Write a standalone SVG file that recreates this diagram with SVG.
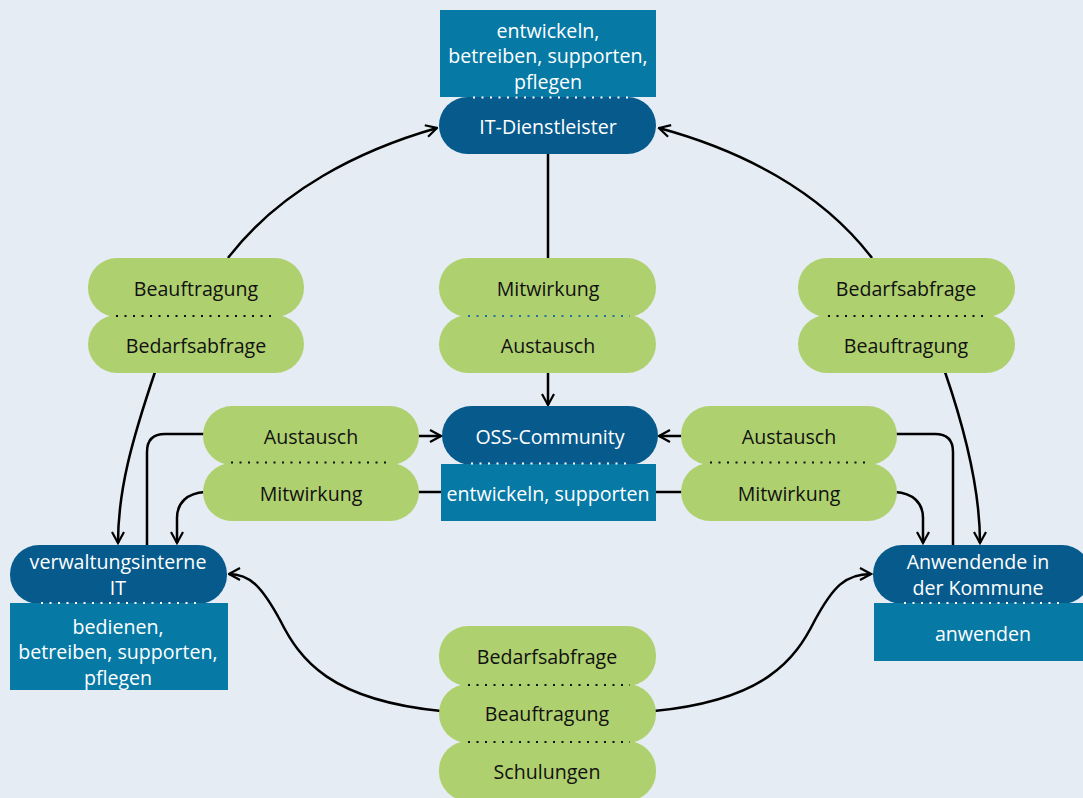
<svg xmlns="http://www.w3.org/2000/svg" width="1083" height="798" viewBox="0 0 1083 798">
<defs>
<marker id="arr" viewBox="0 0 14 14" refX="12.5" refY="7" markerWidth="14" markerHeight="14" markerUnits="userSpaceOnUse" orient="auto">
<path d="M1.5,1 L12.5,7 L1.5,13" fill="none" stroke="#000" stroke-width="2.2"/>
</marker>
<clipPath id="page"><rect x="0" y="0" width="1083" height="798"/></clipPath>
</defs>
<style>
.bg{fill:#e5ecf3}
.dark{fill:#075a8c}
.teal{fill:#0679a5}
.green{fill:#afd06f}
.wt{fill:#fff;font-family:"Open Sans","Noto Sans",sans-serif;font-size:19.6px;text-anchor:middle;dominant-baseline:central}
.bt{fill:#111;font-family:"Open Sans","Noto Sans",sans-serif;font-size:19.6px;text-anchor:middle;dominant-baseline:central}
.dotw{stroke:#fff;stroke-width:2.2;stroke-dasharray:2 6.5;fill:none}
.dotb{stroke:#111;stroke-width:2.2;stroke-dasharray:2 6.5;fill:none}
.dotbl{stroke:#2270a8;stroke-width:2.2;stroke-dasharray:2 6.5;fill:none}
.c{fill:none;stroke:#000;stroke-width:2.5}
.a{marker-end:url(#arr)}
</style>
<rect class="bg" x="0" y="0" width="1083" height="798"/>
<g id="connectors">
<path class="c a" d="M228,258 C280,190 360,150 437,128"/>
<path class="c a" d="M872,258 C820,190 740,150 659,128"/>
<path class="c" d="M548,154 L548,260"/>
<path class="c a" d="M548,372 L548,405"/>
<path class="c a" d="M155,372 C132,440 118,490 118,543"/>
<path class="c" d="M205,434 L165,434 Q147,434 147,452 L147,546"/>
<path class="c a" d="M205,492 C187,493 177,503 177,518 L177,543"/>
<path class="c" d="M417,492 L443,492"/>
<path class="c" d="M654,492 L683,492"/>
<path class="c a" d="M417,436 L441,436"/>
<path class="c a" d="M683,436 L659,436"/>
<path class="c" d="M895,434 L935,434 Q953,434 953,452 L953,546"/>
<path class="c a" d="M895,492 C913,493 923,503 923,518 L923,543"/>
<path class="c a" d="M945,372 C965,430 980,490 980,543"/>
<path class="c a" d="M441,711 C330,700 300,660 280,620 C262,587 250,574 229,574"/>
<path class="c a" d="M654,711 C765,700 795,660 815,620 C833,587 845,574 871,574"/>
</g>
<g id="it-dienstleister">
<rect class="teal" x="440" y="10" width="216" height="87"/>
<text class="wt" x="548" y="30">entwickeln,</text>
<text class="wt" x="548" y="55">betreiben, supporten,</text>
<text class="wt" x="548" y="81">pflegen</text>
<rect class="dark" x="439" y="97" width="217" height="57" rx="28.5"/>
<path class="dotw" d="M473,97.5 L630,97.5"/>
<text class="wt" x="548" y="126">IT-Dienstleister</text>
</g>
<g id="left-top-pair">
<rect class="green" x="88" y="258" width="216" height="59" rx="29"/>
<rect class="green" x="88" y="315" width="216" height="58" rx="29"/>
<path class="dotb" d="M116,316 L276,316"/>
<text class="bt" x="196" y="288">Beauftragung</text>
<text class="bt" x="196" y="345">Bedarfsabfrage</text>
</g>
<g id="middle-top-pair">
<rect class="green" x="439" y="258" width="217" height="59" rx="29"/>
<rect class="green" x="439" y="315" width="217" height="58" rx="29"/>
<path class="dotbl" d="M468,316 L630,316"/>
<text class="bt" x="548" y="288">Mitwirkung</text>
<text class="bt" x="548" y="345">Austausch</text>
</g>
<g id="right-top-pair">
<rect class="green" x="798" y="258" width="217" height="59" rx="29"/>
<rect class="green" x="798" y="315" width="217" height="58" rx="29"/>
<path class="dotb" d="M828,316 L988,316"/>
<text class="bt" x="906" y="288">Bedarfsabfrage</text>
<text class="bt" x="906" y="345">Beauftragung</text>
</g>
<g id="oss-community">
<rect class="dark" x="442" y="406" width="216" height="59" rx="29.5"/>
<rect class="teal" x="441" y="464" width="215" height="57"/>
<path class="dotw" d="M471,463.5 L632,463.5"/>
<text class="wt" x="550" y="436">OSS-Community</text>
<text class="wt" x="548" y="493">entwickeln, supporten</text>
</g>
<g id="left-middle-pair">
<rect class="green" x="203" y="406" width="216" height="59" rx="29"/>
<rect class="green" x="203" y="463" width="216" height="58" rx="29"/>
<path class="dotb" d="M231,462.5 L392,462.5"/>
<text class="bt" x="311" y="436">Austausch</text>
<text class="bt" x="311" y="493">Mitwirkung</text>
</g>
<g id="right-middle-pair">
<rect class="green" x="681" y="406" width="216" height="59" rx="29"/>
<rect class="green" x="681" y="463" width="216" height="58" rx="29"/>
<path class="dotb" d="M710,462.5 L870,462.5"/>
<text class="bt" x="789" y="436">Austausch</text>
<text class="bt" x="789" y="493">Mitwirkung</text>
</g>
<g id="verwaltungsinterne-it">
<rect class="dark" x="10" y="545" width="217" height="59" rx="29"/>
<rect class="teal" x="10" y="603" width="218" height="87"/>
<path class="dotw" d="M41,603 L200,603"/>
<text class="wt" x="118" y="561">verwaltungsinterne</text>
<text class="wt" x="118" y="587">IT</text>
<text class="wt" x="118" y="626">bedienen,</text>
<text class="wt" x="118" y="651">betreiben, supporten,</text>
<text class="wt" x="118" y="677">pflegen</text>
</g>
<g id="anwendende" clip-path="url(#page)">
<rect class="dark" x="873" y="545" width="218" height="59" rx="29"/>
<rect class="teal" x="874" y="603" width="215" height="58"/>
<path class="dotw" d="M904,603 L1062,603"/>
<text class="wt" x="978" y="561">Anwendende in</text>
<text class="wt" x="978" y="587">der Kommune</text>
<text class="wt" x="983" y="633">anwenden</text>
</g>
<g id="bottom-stack">
<rect class="green" x="439" y="626" width="217" height="60" rx="29"/>
<rect class="green" x="439" y="684" width="217" height="59" rx="29"/>
<rect class="green" x="439" y="741" width="217" height="60" rx="29"/>
<path class="dotb" d="M468,685 L630,685"/>
<path class="dotb" d="M468,742 L630,742"/>
<text class="bt" x="547" y="656">Bedarfsabfrage</text>
<text class="bt" x="547" y="713">Beauftragung</text>
<text class="bt" x="547" y="771">Schulungen</text>
</g>
</svg>
